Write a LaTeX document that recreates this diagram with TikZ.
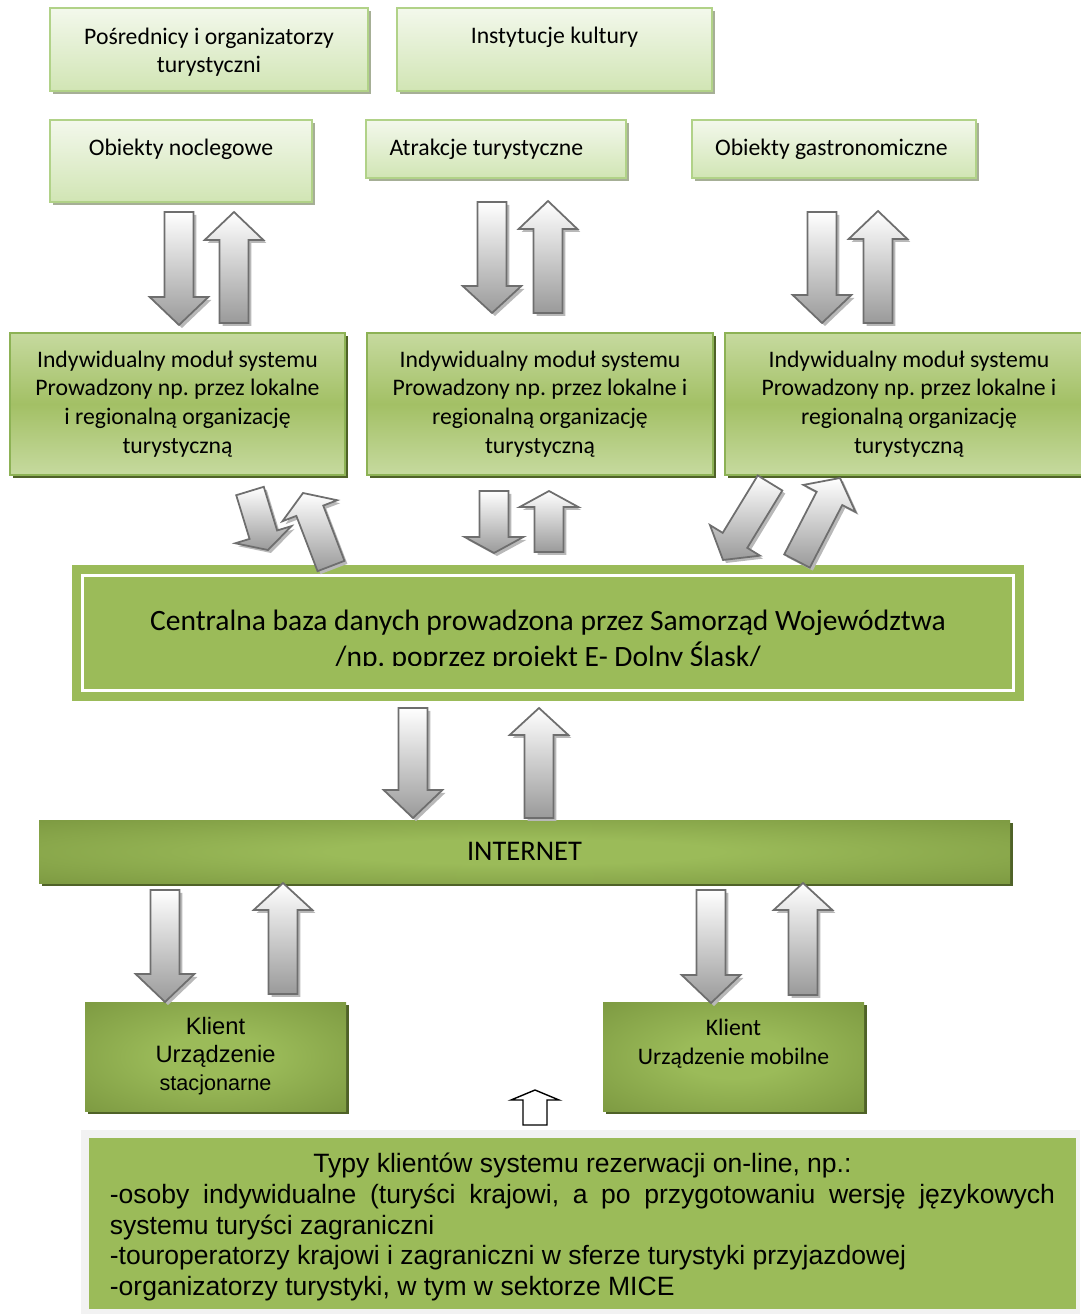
\documentclass[tikz,border=0pt]{standalone}
\usepackage{fontspec}
\setmainfont{Carlito}
\newfontfamily\arialfont{Liberation Sans}
\usetikzlibrary{calc,shadows}

\definecolor{srclight}{HTML}{F3F8EC}
\definecolor{srcgreen}{HTML}{D1E5B4}
\definecolor{srcline}{HTML}{B1D288}
\definecolor{srcshadow}{HTML}{A6AF96}
\definecolor{modlight}{HTML}{C6DA9F}
\definecolor{moddark}{HTML}{A3C065}
\definecolor{modline}{HTML}{8DB255}
\definecolor{olive}{HTML}{9BBB59}
\definecolor{olivedeep}{HTML}{76923C}
\definecolor{oliveshadow}{HTML}{4F6228}
\definecolor{arrline}{HTML}{6E6E6E}
\definecolor{arrgray}{HTML}{9A9A9A}
\definecolor{arrshade}{HTML}{B8B8B8}
\definecolor{framegray}{HTML}{F2F2F2}

\pgfdeclareradialshading{oliveglow}{\pgfpoint{0bp}{0bp}}{color(0bp)=(olive); color(10bp)=(olive); color(42bp)=(olivedeep); color(60bp)=(olivedeep)}

\newcommand{\pxu}{0.02cm}
\newcommand{\shaftw}{8.2pt}
\newcommand{\headw}{16.7pt}

% outline of a block arrow from #1 (tail) to #2 (tip), head base at (hb)
\newcommand{\arrowoutline}[2]{($(#1)!\shaftw!90:(#2)$) -- ($(hb)!\shaftw!90:(#2)$) -- ($(hb)!\headw!90:(#2)$) -- (#2) -- ($(hb)!\headw!-90:(#2)$) -- ($(hb)!\shaftw!-90:(#2)$) -- ($(#1)!\shaftw!-90:(#2)$) -- cycle}

% block arrow with its shadow, #1 = head length in px
\newcommand{\blockarrow}[3][28]{%
  \coordinate (hb) at ($(#3)!#1*\pxu!(#2)$);
  \begin{scope}[transform canvas={shift={(1.7pt,-1.7pt)}}]
    \fill[arrshadow] \arrowoutline{#2}{#3};
  \end{scope}
  \path[arrbody] \arrowoutline{#2}{#3};
}

\tikzset{
  boxsize/.style 2 args={minimum width=#1*\pxu, minimum height=#2*\pxu},
  sourcebox/.style={rectangle, inner sep=0pt, align=center,
    draw=srcline, line width=1.1pt, top color=srclight, bottom color=srcgreen,
    drop shadow={shadow xshift=1.7pt, shadow yshift=-1.7pt, fill=srcshadow, opacity=1},
    font=\fontsize{13.5}{16.2}\selectfont},
  modulebox/.style={rectangle, inner sep=0pt, align=center,
    draw=modline, line width=1.1pt, top color=modlight, bottom color=modlight, middle color=moddark,
    drop shadow={shadow xshift=1.7pt, shadow yshift=-1.7pt, fill=oliveshadow, opacity=1},
    font=\fontsize{13.5}{16.4}\selectfont},
  glowbox/.style={rectangle, inner sep=0pt, align=center, shade, shading=oliveglow,
    drop shadow={shadow xshift=1.7pt, shadow yshift=-1.7pt, fill=oliveshadow, opacity=1},
    font=\fontsize{13.5}{16.4}\selectfont},
  arrbody/.style={draw=arrline, line width=1pt, top color=white, bottom color=arrgray},
  arrshadow/.style={fill=arrshade},
}

\begin{document}
\frenchspacing
\begin{tikzpicture}[x=0.02cm, y=-0.02cm]
  \useasboundingbox (0,0) rectangle (1080,1314);

  % sources of the offer
  \node[sourcebox, boxsize={318}{83}] (posr) at (209,49.5) {\\[-3.5pt]Pośrednicy i organizatorzy\\turystyczni};
  \node[sourcebox, boxsize={315}{83}] (inst) at (554.5,49.5) {Instytucje kultury\\\mbox{}};
  \node[sourcebox, boxsize={262}{82}] (nocl) at (181,161) {Obiekty noclegowe\\\mbox{}};
  \node[sourcebox, boxsize={260}{58}] (atr) at (496,149) {Atrakcje turystyczne\hspace*{11pt}};
  \node[sourcebox, boxsize={284}{58}] (gastr) at (834,149) {Obiekty gastronomiczne\hspace*{3pt}};

  % individual modules
  \node[modulebox, boxsize={335}{142}] (mod1) at (177.5,404) {Indywidualny moduł systemu\\Prowadzony np. przez lokalne\\i regionalną organizację\\turystyczną};
  \node[modulebox, boxsize={346}{142}] (mod2) at (540,404) {Indywidualny moduł systemu\\Prowadzony np. przez lokalne i\\regionalną organizację\\turystyczną};
  \node[modulebox, boxsize={368}{142}] (mod3) at (909,404) {Indywidualny moduł systemu\\Prowadzony np. przez lokalne i\\regionalną organizację\\turystyczną};

  % central database
  \node[rectangle, fill=olive, boxsize={952}{136}] (baza) at (548,633) {};
  \draw[white, line width=1.7pt] ($(baza.north west)+(10.5,10.5)$) rectangle ($(baza.south east)+(-10.5,-10.5)$);
  \begin{scope}
    \clip (83,576) rectangle (1013,665);
    \node[align=center, inner sep=0pt, font=\fontsize{16.8}{20.4}\selectfont] (bazatxt) at (548,641)
      {Centralna baza danych prowadzona przez Samorząd Województwa\\/np. poprzez projekt E- Dolny Śląsk/};
  \end{scope}

  % internet and clients
  \node[glowbox, boxsize={971}{63}, font=\fontsize{16.2}{18}\selectfont] (net) at (524.5,851.5) {INTERNET};
  \node[glowbox, boxsize={261}{109}, font=\arialfont\fontsize{13.5}{16}\selectfont] (klst) at (215.5,1056.5)
    {Klient\\Urządzenie\\{\fontsize{12.3}{16}\selectfont stacjonarne}};
  \node[glowbox, boxsize={261}{109}] (klmob) at (733.5,1056.5) {Klient\\Urządzenie mobilne\\\mbox{}};

  % client types
  \fill[framegray] (81,1130) rectangle (1080,1314);
  \node[rectangle, fill=olive, boxsize={987}{171}] (types) at (582.5,1223.5) {};
  \node[inner sep=0pt, text width=538pt, align=justify, font=\arialfont\fontsize{15.1}{17.4}\selectfont]
    (typestxt) at (582.5,1227) 
    {\centerline{Typy klientów systemu rezerwacji on-line, np.:}
     -osoby indywidualne (turyści krajowi, a po przygotowaniu wersję językowych\linebreak systemu turyści zagraniczni\par
     -touroperatorzy krajowi i zagraniczni w sferze turystyki przyjazdowej\par
     -organizatorzy turystyki, w tym w sektorze MICE};

  % small outline arrow above the client types
  \draw[black, line width=0.8pt, fill=white] (523,1125) -- (523,1100) -- (511,1100) -- (535,1090)
    -- (559,1100) -- (547,1100) -- (547,1125) -- cycle;

  % arrow ends, in px of the page
  \foreach \nm/\x/\y in {
      noclDn/179/212, noclDnTip/179/325, noclUp/234/323, noclUpTip/234/212,
      atrDn/492/202, atrDnTip/492/313, atrUp/548/313, atrUpTip/548/201,
      gastrDn/822/212, gastrDnTip/822/323, gastrUp/878/323, gastrUpTip/878/211,
      modaDn/250/491, modaDnTip/268/550, modaUp/331/566, modaUpTip/303/493,
      modbDn/494/491, modbDnTip/494/553, modbUp/549/552, modbUpTip/549/491,
      modcDn/770/483, modcDnTip/723/560, modcUp/797/561, modcUpTip/840/478,
      bazaDn/413/708, bazaDnTip/413/818, bazaUp/539/818, bazaUpTip/539/708,
      netaDn/165/890, netaDnTip/165/1002, netaUp/283/994, netaUpTip/283/883,
      netbDn/711/890, netbDnTip/711/1003, netbUp/803/995, netbUpTip/803/883}
    \coordinate (\nm) at (\x,\y);

  % block arrows
  \foreach \a/\h in {noclDn/28, noclUp/28, atrDn/27, atrUp/28, gastrDn/28, gastrUp/28,
      modaDn/16, modaUp/19, modbDn/16, modbUp/16, modcDn/23, modcUp/23,
      bazaDn/28, bazaUp/27, netaDn/28, netaUp/27, netbDn/28, netbUp/27}
    {\blockarrow[\h]{\a}{\a Tip}}

\end{tikzpicture}
\end{document}
